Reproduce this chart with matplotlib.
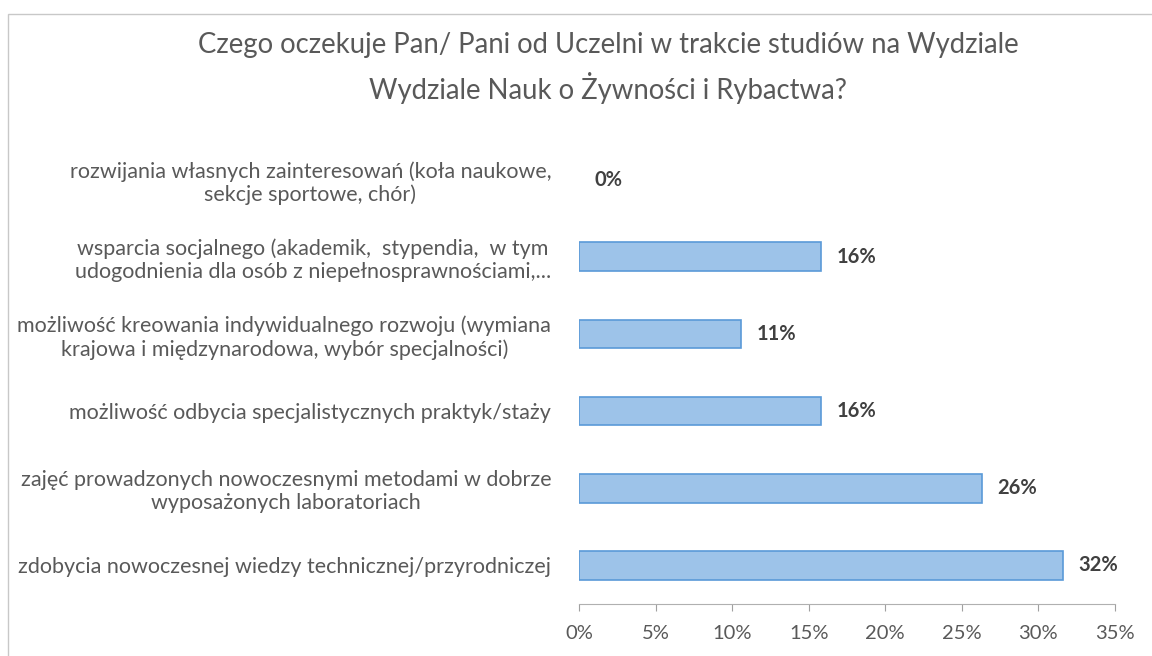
import matplotlib
matplotlib.use("Agg")
import matplotlib.pyplot as plt
from matplotlib.ticker import FuncFormatter

categories = [
    "rozwijania własnych zainteresowań (koła naukowe,\nsekcje sportowe, chór)",
    "wsparcia socjalnego (akademik,  stypendia,  w tym\nudogodnienia dla osób z niepełnosprawnościami,...",
    "możliwość kreowania indywidualnego rozwoju (wymiana\nkrajowa i międzynarodowa, wybór specjalności)",
    "możliwość odbycia specjalistycznych praktyk/staży",
    "zajęć prowadzonych nowoczesnymi metodami w dobrze\nwyposażonych laboratoriach",
    "zdobycia nowoczesnej wiedzy technicznej/przyrodniczej",
]
values = [0.0, 15.8, 10.6, 15.8, 26.3, 31.6]
xticks = [0, 5, 10, 15, 20, 25, 30, 35]
title = "Czego oczekuje Pan/ Pani od Uczelni w trakcie studiów na Wydziale\nWydziale Nauk o Żywności i Rybactwa?"

plt.rcParams['font.family'] = ['Lato', 'DejaVu Sans']
text_col = "#595959"

fig = plt.figure(figsize=(11.52, 6.56), dpi=100)
ax = fig.add_axes([579/1152, 1 - 604/656, (1115-579)/1152, (604-141)/656])

ypos = list(range(len(categories)))
lws = [1.2 if v > 0 else 0 for v in values]
ax.barh(ypos, values, height=0.37, color="#9dc3e9", edgecolor="#5a9ad8", linewidth=lws)
ax.set_ylim(len(categories) - 0.5, -0.5)
ax.set_xlim(0, 35)
ax.set_xticks(xticks)
ax.xaxis.set_major_formatter(FuncFormatter(lambda v, p: f"{v:.0f}%"))
ax.tick_params(axis='x', colors="#a0a0a0", labelcolor=text_col, labelsize=14.5, length=5, pad=10)
ax.set_yticks(ypos)
ax.set_yticklabels(categories, fontsize=15.5, color=text_col, multialignment='center', linespacing=1.2)
ax.tick_params(axis='y', length=0, pad=20)
for s in ['top', 'right', 'left']:
    ax.spines[s].set_visible(False)
ax.spines['bottom'].set_color("#b0b0b0")

for y, v in zip(ypos, values):
    ax.text(v + 1.0, y, f"{v:.0f}%", va='center', ha='left', fontsize=14.5,
            fontweight='bold', color="#404040")

fig.text(608/1152, 1 - 68/656, title, ha='center', va='center', fontsize=19.8,
         color=text_col, linespacing=1.55)

# chart border
border = plt.Rectangle((8/1152, -0.1), 1.2, 1 - 14/656 + 0.1, transform=fig.transFigure,
                       fill=False, edgecolor="#c8c8c8", linewidth=1)
fig.patches.append(border)

fig.savefig("out.png", dpi=100, facecolor="white")
